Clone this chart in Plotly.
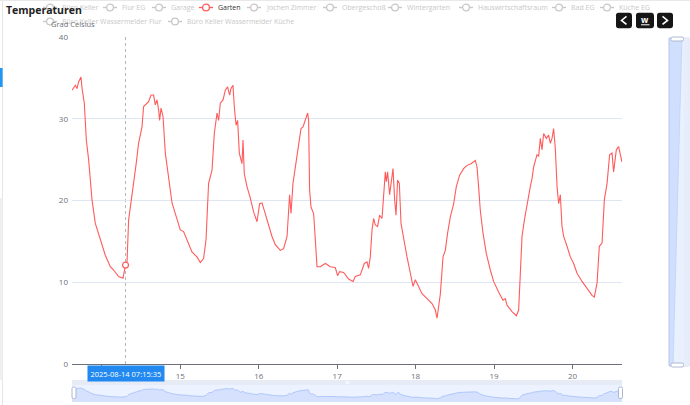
import plotly.graph_objects as go

# ---------------- data ----------------
TITLE = "Temperaturen"
Y_NAME = "Grad Celsius"
SERIES_NAMES = ["Büro Keller", "Flur EG", "Garage", "Garten", "Jochen Zimmer", "Obergeschoß",
                "Wintergarten", "Hauswirtschaftsraum", "Bad EG", "Küche EG",
                "Büro Keller Wassermelder Flur", "Büro Keller Wassermelder Küche"]
ACTIVE_SERIES = "Garten"
POINTER_TIME = "2025-08-14 07:15:35"
Y_TICKS = [0, 10, 20, 30, 40]

TIMES = [
    "2025-08-13 14:53", "2025-08-13 15:54", "2025-08-13 16:25", "2025-08-13 16:54", "2025-08-13 17:38",
    "2025-08-13 17:56", "2025-08-13 18:39", "2025-08-13 19:16", "2025-08-13 19:58", "2025-08-13 21:00",
    "2025-08-13 22:01", "2025-08-13 23:01", "2025-08-14 00:04", "2025-08-14 01:04", "2025-08-14 02:36",
    "2025-08-14 03:37", "2025-08-14 05:08", "2025-08-14 06:29", "2025-08-14 07:15:35", "2025-08-14 07:42",
    "2025-08-14 08:12", "2025-08-14 09:14", "2025-08-14 09:44", "2025-08-14 10:33", "2025-08-14 11:15",
    "2025-08-14 12:18", "2025-08-14 12:47", "2025-08-14 13:37", "2025-08-14 14:19", "2025-08-14 15:03",
    "2025-08-14 15:51", "2025-08-14 16:22", "2025-08-14 16:53", "2025-08-14 17:23", "2025-08-14 17:41",
    "2025-08-14 18:07", "2025-08-14 18:43", "2025-08-14 19:26", "2025-08-14 20:26", "2025-08-14 21:29",
    "2025-08-14 22:29", "2025-08-15 00:01", "2025-08-15 01:01", "2025-08-15 02:04", "2025-08-15 03:35",
    "2025-08-15 05:07", "2025-08-15 06:08", "2025-08-15 07:08", "2025-08-15 07:53", "2025-08-15 08:40",
    "2025-08-15 09:43", "2025-08-15 10:25", "2025-08-15 11:15", "2025-08-15 11:44", "2025-08-15 12:15",
    "2025-08-15 13:05", "2025-08-15 13:47", "2025-08-15 14:29", "2025-08-15 15:06", "2025-08-15 15:32",
    "2025-08-15 16:08", "2025-08-15 16:32", "2025-08-15 17:04", "2025-08-15 17:33", "2025-08-15 18:04",
    "2025-08-15 18:53", "2025-08-15 19:12", "2025-08-15 19:35", "2025-08-15 20:25", "2025-08-15 21:26",
    "2025-08-15 22:26", "2025-08-15 23:29", "2025-08-16 00:17", "2025-08-16 01:01", "2025-08-16 02:01",
    "2025-08-16 03:02", "2025-08-16 04:04", "2025-08-16 05:05", "2025-08-16 06:37", "2025-08-16 07:37",
    "2025-08-16 08:40", "2025-08-16 09:27", "2025-08-16 09:53", "2025-08-16 10:29", "2025-08-16 11:43",
    "2025-08-16 12:13", "2025-08-16 12:56", "2025-08-16 13:33", "2025-08-16 14:16", "2025-08-16 14:58",
    "2025-08-16 15:16", "2025-08-16 15:34", "2025-08-16 16:00", "2025-08-16 16:48", "2025-08-16 17:19",
    "2025-08-16 17:50", "2025-08-16 18:51", "2025-08-16 20:23", "2025-08-16 21:55", "2025-08-16 23:26",
    "2025-08-17 00:08", "2025-08-17 00:45", "2025-08-17 01:58", "2025-08-17 03:30", "2025-08-17 04:51",
    "2025-08-17 05:33", "2025-08-17 07:05", "2025-08-17 08:18", "2025-08-17 09:08", "2025-08-17 09:37",
    "2025-08-17 10:08", "2025-08-17 10:40", "2025-08-17 11:09", "2025-08-17 11:40", "2025-08-17 12:22",
    "2025-08-17 12:59", "2025-08-17 13:43", "2025-08-17 14:13", "2025-08-17 14:44", "2025-08-17 15:02",
    "2025-08-17 15:26", "2025-08-17 16:03", "2025-08-17 16:34", "2025-08-17 17:05", "2025-08-17 17:35",
    "2025-08-17 18:00", "2025-08-17 18:29", "2025-08-17 19:01", "2025-08-17 19:32", "2025-08-17 20:20",
    "2025-08-17 21:22", "2025-08-17 22:23", "2025-08-17 23:12", "2025-08-17 23:55", "2025-08-18 00:55",
    "2025-08-18 01:58", "2025-08-18 03:29", "2025-08-18 05:01", "2025-08-18 06:02", "2025-08-18 06:33",
    "2025-08-18 07:02", "2025-08-18 07:34", "2025-08-18 08:23", "2025-08-18 09:05", "2025-08-18 09:47",
    "2025-08-18 10:37", "2025-08-18 11:38", "2025-08-18 12:27", "2025-08-18 13:28", "2025-08-18 14:41",
    "2025-08-18 15:43", "2025-08-18 16:57", "2025-08-18 18:16", "2025-08-18 18:47", "2025-08-18 19:16",
    "2025-08-18 19:47", "2025-08-18 20:37", "2025-08-18 21:38", "2025-08-18 22:51", "2025-08-18 23:52",
    "2025-08-19 01:23", "2025-08-19 02:44", "2025-08-19 03:26", "2025-08-19 03:58", "2025-08-19 05:29",
    "2025-08-19 06:49", "2025-08-19 07:31", "2025-08-19 08:02", "2025-08-19 08:33", "2025-08-19 09:16",
    "2025-08-19 10:05", "2025-08-19 11:05", "2025-08-19 11:37", "2025-08-19 12:06", "2025-08-19 13:08",
    "2025-08-19 13:38", "2025-08-19 14:09", "2025-08-19 14:40", "2025-08-19 15:10", "2025-08-19 15:59",
    "2025-08-19 16:41", "2025-08-19 17:13", "2025-08-19 17:44", "2025-08-19 18:13", "2025-08-19 18:44",
    "2025-08-19 19:16", "2025-08-19 19:45", "2025-08-19 20:16", "2025-08-19 20:47", "2025-08-19 21:17",
    "2025-08-19 22:19", "2025-08-19 23:20", "2025-08-20 00:20", "2025-08-20 01:23", "2025-08-20 02:55",
    "2025-08-20 04:26", "2025-08-20 05:58", "2025-08-20 06:40", "2025-08-20 07:30", "2025-08-20 08:12",
    "2025-08-20 09:02", "2025-08-20 09:44", "2025-08-20 10:34", "2025-08-20 11:21", "2025-08-20 12:05",
    "2025-08-20 12:34", "2025-08-20 13:24", "2025-08-20 14:06", "2025-08-20 14:37", "2025-08-20 15:08",
]

GARTEN = [
    33.5, 34.1, 33.7, 34.5, 35.1, 33.8, 31.9, 27.4, 25.0, 20.1,
    17.2, 16.0, 14.6, 13.3, 11.9, 11.5, 10.7, 10.5, 12.1, 12.3,
    17.6, 20.5, 22.5, 24.6, 27.0, 29.0, 31.5, 31.9, 32.1, 32.9,
    32.9, 31.7, 32.3, 31.1, 29.8, 31.3, 30.3, 25.8, 22.9, 19.7,
    18.4, 16.4, 16.2, 15.2, 13.7, 13.1, 12.4, 12.9, 15.2, 22.1,
    23.7, 28.2, 30.7, 29.8, 31.9, 32.3, 33.5, 33.9, 32.9, 33.7,
    34.1, 31.5, 29.2, 29.8, 25.8, 24.5, 27.4, 23.3, 21.7, 20.3,
    18.6, 17.4, 19.6, 19.7, 18.4, 16.8, 15.6, 14.6, 13.9, 14.1,
    15.6, 20.7, 18.4, 22.1, 25.8, 26.8, 28.8, 29.0, 29.8, 30.7,
    29.8, 21.3, 19.2, 18.4, 15.2, 11.9, 11.9, 12.3, 11.9, 11.8,
    10.8, 11.3, 11.2, 10.4, 10.1, 10.7, 10.9, 12.3, 12.5, 11.7,
    13.1, 16.4, 17.8, 17.0, 16.8, 18.2, 17.8, 20.5, 23.5, 22.3,
    23.5, 20.7, 22.7, 23.9, 20.1, 18.2, 22.5, 22.1, 17.2, 15.2,
    13.1, 11.1, 9.5, 10.3, 9.5, 8.6, 8.0, 7.4, 6.6, 5.6,
    7.0, 8.6, 13.1, 13.9, 16.0, 18.0, 19.6, 21.7, 23.1, 23.9,
    24.3, 24.5, 24.9, 24.1, 21.7, 18.8, 16.0, 13.5, 11.5, 10.1,
    8.8, 7.8, 8.0, 7.2, 6.4, 5.9, 6.6, 10.3, 15.6, 17.6,
    19.6, 21.7, 22.7, 24.1, 25.6, 25.4, 27.6, 26.2, 28.2, 27.6,
    28.0, 27.0, 27.6, 28.8, 26.4, 21.7, 19.6, 20.7, 16.8, 15.6,
    14.4, 13.1, 12.3, 11.1, 10.1, 9.3, 8.4, 8.2, 9.9, 14.4,
    14.8, 20.1, 22.1, 25.6, 25.8, 23.5, 26.2, 26.6, 25.8, 24.7,
]

# ---------------- layout helpers (pixels -> paper) ----------------
W, H = 690, 405
PL, PR, PT, PB = 72, 622, 37, 405      # paper plotting box (pixels)
MAIN_BOTTOM = 364
SLIDER_TOP = 385
SLIDER_BOTTOM = 402


def PX(x):
    return (x - PL) / (PR - PL)


def PY(y):
    return (PB - y) / (PB - PT)


FONT = "Open Sans"
RED = "#ff5b5b"
INACTIVE = "#c8c8c8"
AXIS_GREY = "#6e7079"

fig = go.Figure()

# main series
fig.add_trace(go.Scatter(x=TIMES, y=GARTEN, mode="lines", name=ACTIVE_SERIES,
                         line=dict(color=RED, width=1.1), showlegend=False,
                         hoverinfo="skip"))

# axis pointer marker
pi = TIMES.index(POINTER_TIME)
fig.add_trace(go.Scatter(x=[TIMES[pi]], y=[GARTEN[pi]], mode="markers", showlegend=False,
                         marker=dict(size=6, color="white", line=dict(color=RED, width=1.2)),
                         hoverinfo="skip"))

# data shadow in bottom slider
vmin, vmax = min(GARTEN), max(GARTEN)
off = (vmax - vmin) * 0.3
lo, hi = vmin - off, vmax + off
fig.add_trace(go.Scatter(x=[TIMES[0], TIMES[-1]], y=[lo, lo], xaxis="x2", yaxis="y2",
                         mode="lines", line=dict(width=0), showlegend=False, hoverinfo="skip"))
fig.add_trace(go.Scatter(x=TIMES, y=GARTEN, xaxis="x2", yaxis="y2", mode="lines",
                         line=dict(color="#8fb0f7", width=0.6, shape="spline", smoothing=1.3),
                         fill="tonexty", fillcolor="rgba(143,176,247,0.25)",
                         showlegend=False, hoverinfo="skip"))

shapes = []
annotations = []

# page decorations (left sidebar / top border)
shapes.append(dict(type="line", xref="paper", yref="paper", x0=PX(0), x1=PX(W), y0=PY(0.5), y1=PY(0.5),
                   line=dict(color="#e8e8e8", width=1)))
shapes.append(dict(type="line", xref="paper", yref="paper", x0=PX(2.5), x1=PX(2.5), y0=PY(0), y1=PY(H),
                   line=dict(color="#e6e6e6", width=1)))
shapes.append(dict(type="rect", xref="paper", yref="paper", x0=PX(0), x1=PX(2.5), y0=PY(198), y1=PY(380),
                   fillcolor="#f0f0f0", line=dict(width=0)))
shapes.append(dict(type="rect", xref="paper", yref="paper", x0=PX(0), x1=PX(2.6), y0=PY(68), y1=PY(87),
                   fillcolor="#2196f3", line=dict(width=0)))

# axis pointer dashed line
shapes.append(dict(type="line", xref="x", yref="y domain", x0=POINTER_TIME, x1=POINTER_TIME, y0=0, y1=1,
                   line=dict(color="#b5b5b5", width=1, dash="dot"), layer="below"))

# legend
LEGEND_SYMBOL_X = [43, 103, 152, 199, 247, 323, 388, 459, 552, 600, 43, 168]
LEGEND_ROW_Y = [7.5] * 10 + [21.5] * 2
for name, sx, ry in zip(SERIES_NAMES, LEGEND_SYMBOL_X, LEGEND_ROW_Y):
    col = RED if name == ACTIVE_SERIES else INACTIVE
    tcol = "#333333" if name == ACTIVE_SERIES else INACTIVE
    shapes.append(dict(type="line", xref="paper", yref="paper", x0=PX(sx), x1=PX(sx + 14),
                       y0=PY(ry), y1=PY(ry), line=dict(color=col, width=1.4)))
    shapes.append(dict(type="circle", xref="paper", yref="paper", x0=PX(sx + 3.6), x1=PX(sx + 10.4),
                       y0=PY(ry - 3.4), y1=PY(ry + 3.4), fillcolor="white", line=dict(color=col, width=1.3)))
    annotations.append(dict(x=PX(sx + 17), y=PY(ry), xref="paper", yref="paper", text=name,
                            showarrow=False, xanchor="left", yanchor="middle",
                            font=dict(family=FONT, size=7, color=tcol)))

# title & axis name (drawn over legend)
annotations.append(dict(x=PX(4), y=PY(10), xref="paper", yref="paper", text="<b>" + TITLE + "</b>",
                        showarrow=False, xanchor="left", yanchor="middle",
                        font=dict(family=FONT, size=10.5, color="#222222")))
annotations.append(dict(x=PX(72.5), y=PY(24), xref="paper", yref="paper", text=Y_NAME,
                        showarrow=False, xanchor="center", yanchor="middle",
                        font=dict(family=FONT, size=7.5, color=AXIS_GREY)))

# axis pointer label
annotations.append(dict(x=POINTER_TIME, y=PY(373), xref="x", yref="paper", text=POINTER_TIME,
                        showarrow=False, xanchor="center", yanchor="middle", bgcolor="#2189f0",
                        borderpad=2.5, font=dict(family=FONT, size=7.5, color="white")))


def rounded_rect(x0, y0, x1, y1, r):
    p = [("M", x0 + r, y0), ("L", x1 - r, y0), ("Q", x1, y0, x1, y0 + r), ("L", x1, y1 - r),
         ("Q", x1, y1, x1 - r, y1), ("L", x0 + r, y1), ("Q", x0, y1, x0, y1 - r), ("L", x0, y0 + r),
         ("Q", x0, y0, x0 + r, y0)]
    s = ""
    for seg in p:
        cmd = seg[0]
        coords = seg[1:]
        pts = []
        for i in range(0, len(coords), 2):
            pts.append("%.5f,%.5f" % (PX(coords[i]), PY(coords[i + 1])))
        s += cmd + " ".join(pts) + " "
    return s + "Z"


def poly(points):
    return "M" + " L".join("%.5f,%.5f" % (PX(x), PY(y)) for x, y in points) + " Z"


# toolbox buttons
for bx0, bx1 in [(616, 632), (636, 654), (657, 673)]:
    shapes.append(dict(type="path", xref="paper", yref="paper", path=rounded_rect(bx0, 12.7, bx1, 28.3, 2.5),
                       fillcolor="#161616", line=dict(width=0)))
shapes.append(dict(type="path", xref="paper", yref="paper",
                   path="M%.5f,%.5f L%.5f,%.5f L%.5f,%.5f" % (PX(626.5), PY(16.5), PX(621.5), PY(20.5), PX(626.5), PY(24.5)),
                   line=dict(color="white", width=1.6)))
shapes.append(dict(type="path", xref="paper", yref="paper",
                   path="M%.5f,%.5f L%.5f,%.5f L%.5f,%.5f" % (PX(662.5), PY(16.5), PX(667.5), PY(20.5), PX(662.5), PY(24.5)),
                   line=dict(color="white", width=1.6)))
shapes.append(dict(type="line", xref="paper", yref="paper", x0=PX(641), x1=PX(649.5), y0=PY(24.8), y1=PY(24.8),
                   line=dict(color="white", width=1)))
annotations.append(dict(x=PX(645.2), y=PY(19.8), xref="paper", yref="paper", text="<b>w</b>",
                        showarrow=False, xanchor="center", yanchor="middle",
                        font=dict(family=FONT, size=8.5, color="white")))

# right vertical slider
shapes.append(dict(type="rect", xref="paper", yref="paper", x0=PX(669), x1=PX(689), y0=PY(38), y1=PY(366),
                   fillcolor="rgba(135,175,255,0.18)", line=dict(color="#d2dbee", width=1)))
shapes.append(dict(type="path", xref="paper", yref="paper",
                   path=poly([(669, 38), (682, 38), (673, 366), (669, 366)]),
                   fillcolor="rgba(143,176,247,0.28)", line=dict(color="#b7cbf5", width=0.6)))
shapes.append(dict(type="rect", xref="paper", yref="paper", x0=PX(683.5), x1=PX(689), y0=PY(38), y1=PY(366),
                   fillcolor="rgba(230,236,250,0.8)", line=dict(width=0)))
for hy in (39, 365):
    shapes.append(dict(type="path", xref="paper", yref="paper", path=rounded_rect(671, hy - 2, 683.5, hy + 2, 1.5),
                       fillcolor="white", line=dict(color="#acb8d1", width=1)))

# bottom slider
shapes.append(dict(type="rect", xref="paper", yref="paper", x0=PX(72), x1=PX(622), y0=PY(380), y1=PY(385),
                   fillcolor="rgba(210,219,238,0.55)", line=dict(width=0)))
shapes.append(dict(type="rect", xref="paper", yref="paper", x0=PX(72), x1=PX(622), y0=PY(385), y1=PY(SLIDER_BOTTOM),
                   fillcolor="rgba(135,175,255,0.16)", line=dict(width=0), layer="below"))
shapes.append(dict(type="line", xref="paper", yref="paper", x0=PX(345.5), x1=PX(349.5), y0=PY(381.8), y1=PY(381.8),
                   line=dict(color="white", width=0.8)))
shapes.append(dict(type="line", xref="paper", yref="paper", x0=PX(345.5), x1=PX(349.5), y0=PY(383.2), y1=PY(383.2),
                   line=dict(color="white", width=0.8)))
for hx in (74, 620.5):
    shapes.append(dict(type="path", xref="paper", yref="paper", path=rounded_rect(hx - 2, 387, hx + 2, 398.5, 1.5),
                       fillcolor="white", line=dict(color="#acb8d1", width=1)))

fig.update_layout(
    width=W, height=H,
    margin=dict(l=PL, r=W - PR, t=PT, b=H - PB, pad=0, autoexpand=False),
    paper_bgcolor="white", plot_bgcolor="white",
    showlegend=False,
    font=dict(family=FONT, color=AXIS_GREY),
    xaxis=dict(domain=[0, 1], anchor="y", type="date", range=[TIMES[0], TIMES[-1]],
               tick0="2025-08-14", dtick=86400000, tickformat="%-d", automargin=False,
               showgrid=False, zeroline=False, showline=True, linecolor=AXIS_GREY, linewidth=1,
               ticks="outside", ticklen=4, tickcolor=AXIS_GREY, tickwidth=1,
               tickfont=dict(family=FONT, size=8, color=AXIS_GREY)),
    yaxis=dict(domain=[PY(MAIN_BOTTOM), 1], anchor="x", range=[0, 40], tickvals=Y_TICKS, automargin=False,
               showgrid=True, gridcolor="#e0e6f1", gridwidth=1, zeroline=False, showline=False,
               ticks="", ticklabelstandoff=3,
               tickfont=dict(family=FONT, size=8, color=AXIS_GREY)),
    xaxis2=dict(domain=[0, 1], anchor="y2", type="date", range=[TIMES[0], TIMES[-1]],
                visible=False, showgrid=False, automargin=False),
    yaxis2=dict(domain=[PY(SLIDER_BOTTOM), PY(SLIDER_TOP)], anchor="x2", range=[lo, hi],
                visible=False, showgrid=False, automargin=False),
    shapes=shapes,
    annotations=annotations,
)

fig.write_html("out.html", config={"displayModeBar": False},
               post_script="document.body.style.margin='0';document.body.style.overflow='hidden';")
